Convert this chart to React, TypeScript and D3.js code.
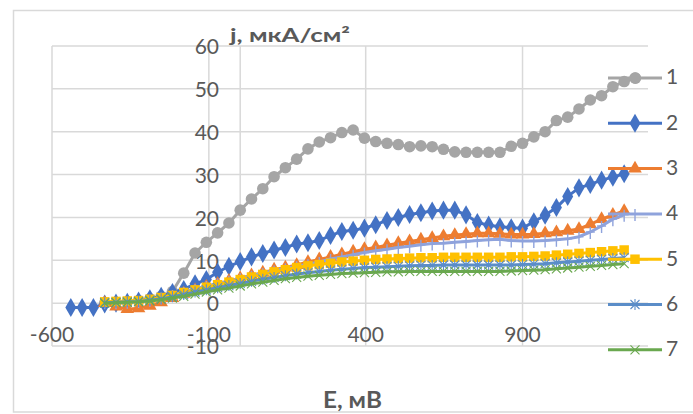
import React from "react";
import * as d3 from "d3";

// Potential grid, mV
const E_MV = [-540, -504, -468, -432, -396, -360, -324, -288, -252, -216, -180, -144, -108, -72, -36, 0, 36, 72, 108, 144, 180, 216, 252, 288, 324, 360, 396, 432, 468, 504, 540, 576, 612, 648, 684, 720, 756, 792, 828, 864, 900, 936, 972, 1008, 1044, 1080, 1116, 1152, 1188, 1224, 1260];

type V = number | null;
const S1: V[] = [null, null, null, 0.0, 0.1, 0.3, 0.6, 1.0, 1.6, 2.7, 7.0, 11.7, 14.2, 16.4, 18.7, 21.7, 24.3, 26.7, 29.5, 31.6, 33.6, 36.0, 37.6, 38.6, 39.8, 40.4, 38.5, 37.7, 37.3, 37.0, 36.5, 36.7, 36.5, 35.9, 35.3, 35.2, 35.2, 35.2, 35.2, 36.6, 37.3, 38.8, 40.0, 42.6, 43.4, 45.3, 47.4, 48.4, 50.5, 51.7, 52.5];
const S2: V[] = [-1.0, -1.0, -1.0, -0.2, 0.0, 0.2, 0.5, 1.0, 1.6, 2.5, 3.2, 4.5, 5.5, 7.2, 8.6, 9.7, 10.8, 11.6, 12.4, 13.0, 13.8, 14.1, 14.6, 15.8, 16.7, 17.0, 17.5, 18.3, 19.3, 20.0, 20.7, 21.1, 21.5, 21.7, 21.7, 20.6, 18.8, 18.2, 17.8, 17.6, 17.5, 19.0, 20.5, 22.3, 24.9, 26.9, 27.7, 28.7, 29.4, 30.2, null];
const S3: V[] = [null, null, null, 0.0, -0.8, -1.4, -1.2, -0.6, 0.2, 1.2, 2.2, 3.0, 3.8, 4.5, 5.2, 5.8, 6.5, 7.1, 7.8, 8.3, 8.9, 9.6, 10.2, 10.8, 11.4, 12.0, 12.6, 13.0, 13.5, 14.0, 14.4, 14.8, 15.2, 15.6, 15.9, 16.1, 16.3, 16.3, 16.2, 16.0, 16.0, 16.1, 16.3, 16.5, 16.9, 17.3, 18.4, 19.6, 20.6, 21.5, null];
const S4: V[] = [null, null, null, 0.2, 0.2, 0.3, 0.5, 0.8, 1.3, 1.9, 2.6, 3.3, 4.0, 4.6, 5.2, 5.8, 6.4, 7.0, 7.6, 8.1, 8.6, 9.1, 9.6, 10.3, 10.8, 11.3, 11.8, 12.2, 12.6, 13.0, 13.3, 13.6, 13.9, 14.0, 14.2, 14.4, 14.6, 14.8, 14.9, 14.6, 14.5, 14.5, 14.6, 14.8, 15.0, 15.5, 16.6, 18.0, 19.6, 20.6, null];
const S5: V[] = [null, null, null, 0.3, 0.4, 0.5, 0.6, 0.9, 1.3, 1.8, 2.5, 3.1, 3.7, 4.3, 4.9, 5.5, 6.1, 6.7, 7.3, 7.8, 8.3, 8.7, 9.0, 9.3, 9.6, 9.8, 10.0, 10.2, 10.3, 10.4, 10.5, 10.6, 10.6, 10.7, 10.7, 10.7, 10.7, 10.7, 10.7, 10.8, 10.8, 10.9, 11.0, 11.2, 11.4, 11.6, 11.8, 12.0, 12.2, 12.4, null];
const S6: V[] = [null, null, null, 0.1, 0.2, 0.3, 0.4, 0.7, 1.0, 1.5, 2.0, 2.6, 3.1, 3.6, 4.1, 4.6, 5.1, 5.6, 6.0, 6.4, 6.8, 7.1, 7.4, 7.7, 7.9, 8.1, 8.3, 8.4, 8.5, 8.6, 8.7, 8.8, 8.8, 8.9, 8.9, 8.9, 8.9, 8.9, 8.9, 8.9, 9.0, 9.1, 9.2, 9.4, 9.6, 9.8, 10.0, 10.2, 10.4, 10.6, null];
const S7: V[] = [null, null, null, 0.0, 0.1, 0.2, 0.3, 0.5, 0.8, 1.2, 1.6, 2.1, 2.6, 3.1, 3.5, 4.0, 4.5, 4.9, 5.3, 5.7, 6.0, 6.3, 6.5, 6.7, 6.9, 7.0, 7.1, 7.2, 7.3, 7.3, 7.4, 7.4, 7.4, 7.4, 7.4, 7.4, 7.4, 7.4, 7.4, 7.5, 7.6, 7.7, 7.8, 8.0, 8.2, 8.4, 8.6, 8.8, 9.0, 9.2, null];

const SERIES_NAMES = ["1", "2", "3", "4", "5", "6", "7"];
const SERIES_DATA = [S1, S2, S3, S4, S5, S6, S7];
const COLORS = ["#A5A5A5", "#4472C4", "#ED7D31", "#8FA3DC", "#FFC000", "#5B8DC8", "#6AA84F"];
const MARKERS = ["circle", "diamond", "triangle", "plus", "square", "asterisk", "times"];

const X_TICKS = [-600, -100, 400, 900];
const Y_TICKS = [-10, 0, 10, 20, 30, 40, 50, 60];
const X_TITLE = "E, мВ";
const Y_TITLE = "j, мкА/см²";

const W = 693, H = 414;
const x = d3.scaleLinear().domain([-600, 1300]).range([52, 648]);
const y = d3.scaleLinear().domain([-10, 60]).range([346, 46]);

function marker(kind: string, color: string, key: string | number, cx: number, cy: number) {
  const t = `translate(${cx},${cy})`;
  switch (kind) {
    case "circle":
      return <circle key={key} cx={cx} cy={cy} r={5.8} fill={color} />;
    case "diamond":
      return <path key={key} transform={t} d={d3.symbol(d3.symbolDiamond, 105)()!} fill={color} />;
    case "triangle":
      return <path key={key} transform={t} d={d3.symbol(d3.symbolTriangle, 80)()!} fill={color} />;
    case "square":
      return <path key={key} transform={t} d={d3.symbol(d3.symbolSquare, 90)()!} fill={color} />;
    case "plus":
      return <path key={key} transform={t} d="M0,-5V7M-4.5,0H4.5" stroke={color} strokeWidth={1.4} fill="none" />;
    case "asterisk":
      return <path key={key} transform={t} d="M0,-5.5V5.5M-4.5,-4.5L4.5,4.5M-4.5,4.5L4.5,-4.5" stroke={color} strokeWidth={1.1} fill="none" />;
    case "times":
      return <path key={key} transform={t} d="M-4.5,-4.5L4.5,4.5M-4.5,4.5L4.5,-4.5" stroke={color} strokeWidth={1.1} fill="none" />;
  }
  return null;
}

export default function App() {
  const line = d3
    .line<[number, V]>()
    .defined((d) => d[1] !== null)
    .x((d) => x(d[0]))
    .y((d) => y(d[1] as number));

  const font = "Lato, 'Open Sans', sans-serif";
  const grey = "#595959";
  const grid = "#D9D9D9";
  const legX0 = 608, legX1 = 662, legY0 = 78, legDY = 45.3;

  return (
    <svg width={W} height={H} style={{ position: "absolute", left: 0, top: 0, background: "#fff" }}>
      <rect x={13.5} y={10.5} width={700} height={401.5} fill="#fff" stroke={grid} strokeWidth={1.5} />
      {Y_TICKS.map((t) => (
        <line key={"gy" + t} x1={x(-600)} x2={x(1300)} y1={y(t)} y2={y(t)} stroke={grid} strokeWidth={1.5} />
      ))}
      {X_TICKS.map((t) => (
        <line key={"gx" + t} x1={x(t)} x2={x(t)} y1={y(60)} y2={y(-10)} stroke={grid} strokeWidth={1.5} />
      ))}
      <line x1={x(0)} x2={x(0)} y1={y(60)} y2={y(-10)} stroke={grid} strokeWidth={1.5} />
      {Y_TICKS.map((t) => (
        <text key={"ty" + t} x={219} y={y(t) + 3} textAnchor="end" dominantBaseline="middle" fontFamily={font} fontSize={21} fill={grey}>
          {t}
        </text>
      ))}
      {X_TICKS.map((t) => (
        <text key={"tx" + t} x={x(t)} y={337} textAnchor="middle" dominantBaseline="middle" fontFamily={font} fontSize={21} fill={grey}>
          {t}
        </text>
      ))}
      <text x={230} y={42} fontFamily={font} fontSize={19} fontWeight="bold" fill={grey} textLength={120} lengthAdjust="spacingAndGlyphs">
        {Y_TITLE}
      </text>
      <text x={323} y={408} fontFamily={font} fontSize={22} fontWeight="bold" fill={grey} textLength={59} lengthAdjust="spacingAndGlyphs">
        {X_TITLE}
      </text>
      {SERIES_DATA.map((s, i) => {
        const pts: [number, V][] = E_MV.map((e, k) => [e, s[k] ?? null]);
        return (
          <g key={"s" + i}>
            <path d={line(pts)!} fill="none" stroke={COLORS[i]} strokeWidth={3} strokeLinejoin="round" />
            {pts.filter((p) => p[1] !== null).map((p, k) => marker(MARKERS[i], COLORS[i], k, x(p[0]), y(p[1] as number)))}
          </g>
        );
      })}
      {SERIES_NAMES.map((n, i) => {
        const ly = legY0 + i * legDY;
        return (
          <g key={"l" + i}>
            <line x1={legX0} x2={legX1} y1={ly} y2={ly} stroke={COLORS[i]} strokeWidth={3} />
            {marker(MARKERS[i], COLORS[i], "m", (legX0 + legX1) / 2, ly)}
            <text x={666} y={ly + 1} dominantBaseline="middle" fontFamily={font} fontSize={21} fill={grey}>
              {n}
            </text>
          </g>
        );
      })}
    </svg>
  );
}
